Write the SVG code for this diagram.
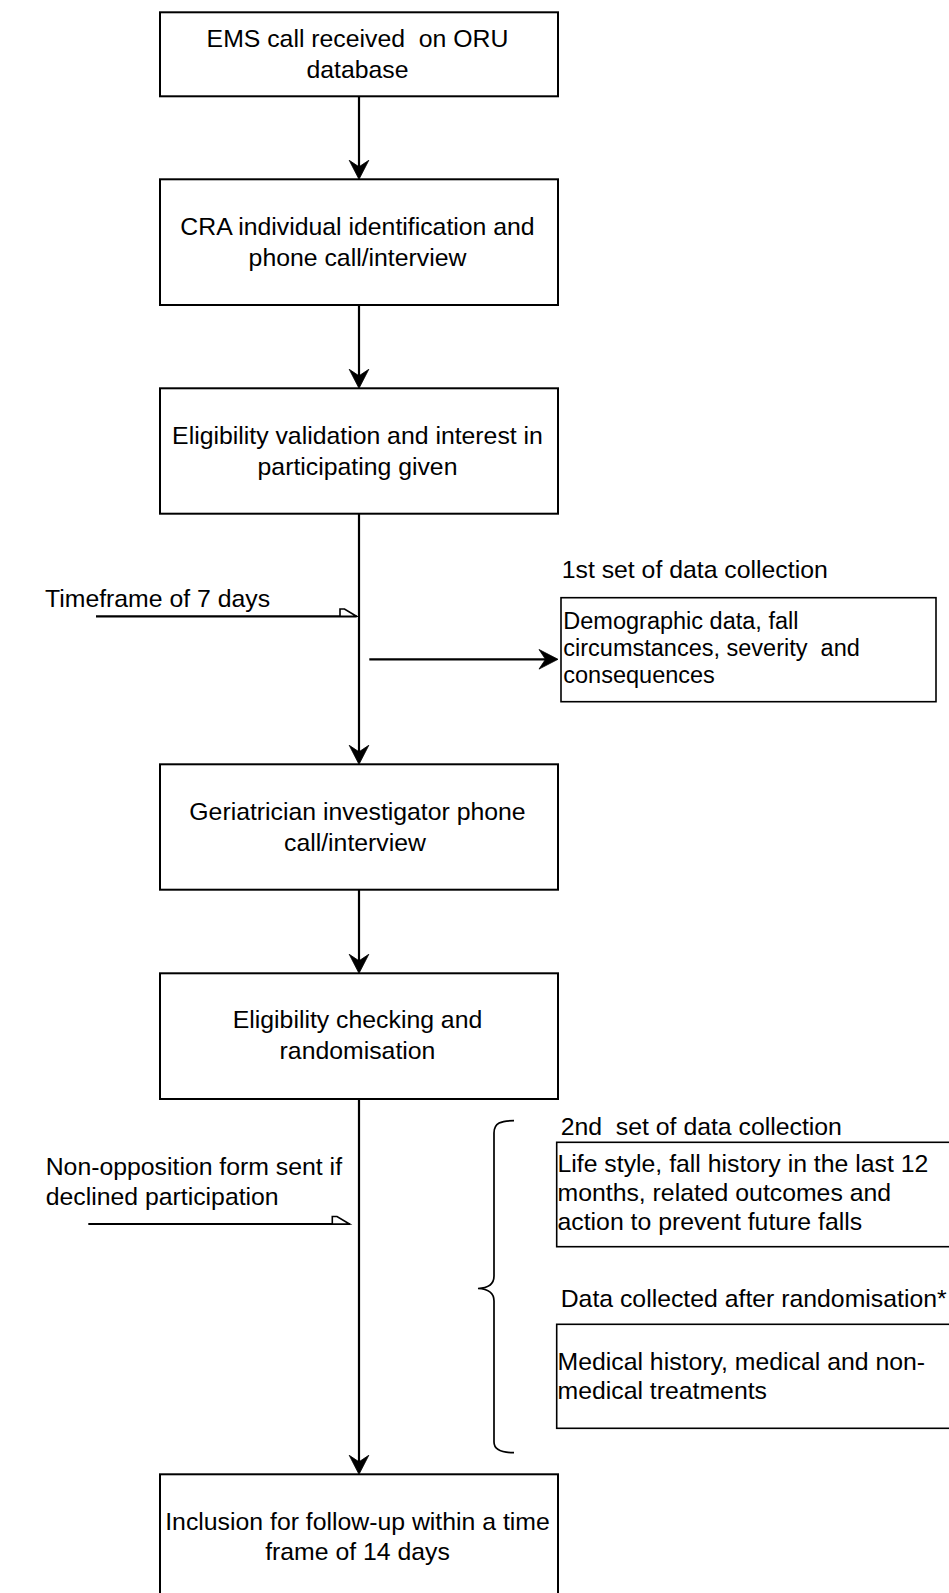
<svg xmlns="http://www.w3.org/2000/svg" width="949" height="1593" viewBox="0 0 949 1593">
  <style>
    text { font-family: "Liberation Sans", Arial, sans-serif; font-size: 24.8px; fill: #000; }
    .c { text-anchor: middle; }
    .box { fill: #fff; stroke: #000; stroke-width: 2; }
    .sbox { fill: #fff; stroke: #000; stroke-width: 1.6; }
    .ln { fill: none; stroke: #000; stroke-width: 2.2; }
    .half { fill: #fff; stroke: #000; stroke-width: 1.6; stroke-linejoin: miter; }
    .brace { fill: none; stroke: #000; stroke-width: 1.7; }
    .small { font-size: 23.5px; }
    .head { fill: #000; stroke: #000; stroke-width: 0.8; stroke-linejoin: miter; }
  </style>
  <defs>
    <path id="ah" class="head" d="M0,0 L-9.8,-19 L0,-12.5 L9.8,-19 Z"/>
  </defs>
  <rect width="949" height="1593" fill="#fff"/>

  <g id="connectors">
    <line class="ln" x1="359" y1="96.3" x2="359" y2="167.3"/>
    <use href="#ah" transform="translate(359,179.3)"/>
    <line class="ln" x1="359" y1="305" x2="359" y2="376.3"/>
    <use href="#ah" transform="translate(359,388.3)"/>
    <line class="ln" x1="359" y1="513.7" x2="359" y2="752.3"/>
    <use href="#ah" transform="translate(359,764.3)"/>
    <line class="ln" x1="359" y1="889.7" x2="359" y2="961.3"/>
    <use href="#ah" transform="translate(359,973.3)"/>
    <line class="ln" x1="359" y1="1099" x2="359" y2="1462.3"/>
    <use href="#ah" transform="translate(359,1474.3)"/>
    <line class="ln" x1="369.3" y1="659.3" x2="546" y2="659.3"/>
    <use href="#ah" transform="translate(558,659.3) rotate(-90)"/>
    <g id="timeframe-arrow">
      <line class="ln" x1="96" y1="616.3" x2="356.7" y2="616.3"/>
      <path class="half" d="M340,616.3 L340,609 L344.5,609 L356.5,616.3 Z"/>
    </g>
    <g id="nonopposition-arrow">
      <line class="ln" x1="88.3" y1="1224" x2="350" y2="1224"/>
      <path class="half" d="M332.3,1224 L332.3,1216.5 L337,1216.5 L349.5,1224 Z"/>
    </g>
    <path id="brace" class="brace" d="M514,1120.7 C501,1120.7 494,1123 494,1133 L494,1276 C494,1284 489,1288 478,1288.5 C489,1289 494,1293 494,1301 L494,1442 C494,1450 501,1452.7 514,1452.7"/>
  </g>

  <g id="node-ems">
    <rect class="box" x="160" y="12.3" width="398" height="84"/>
    <text class="c" x="357.5" y="46.7" xml:space="preserve">EMS call received  on ORU</text>
    <text class="c" x="357.5" y="77.7">database</text>
  </g>
  <g id="node-cra">
    <rect class="box" x="160" y="179.3" width="398" height="125.7"/>
    <text class="c" x="357.5" y="235">CRA individual identification and</text>
    <text class="c" x="357.5" y="265.7">phone call/interview</text>
  </g>
  <g id="node-eligibility-validation">
    <rect class="box" x="160" y="388.3" width="398" height="125.4"/>
    <text class="c" x="357.5" y="444">Eligibility validation and interest in</text>
    <text class="c" x="357.5" y="475">participating given</text>
  </g>
  <g id="label-timeframe">
    <text x="45" y="606.7">Timeframe of 7 days</text>
  </g>
  <g id="node-first-set">
    <text x="561.7" y="578.3">1st set of data collection</text>
    <rect class="sbox" x="561" y="597.7" width="375" height="104"/>
    <text class="small" x="563.3" y="629.3">Demographic data, fall</text>
    <text class="small" x="563.3" y="656" xml:space="preserve">circumstances, severity  and</text>
    <text class="small" x="563.3" y="683.3">consequences</text>
  </g>
  <g id="node-geriatrician">
    <rect class="box" x="160" y="764.3" width="398" height="125.4"/>
    <text class="c" x="357.5" y="820">Geriatrician investigator phone</text>
    <text class="c" x="355" y="851">call/interview</text>
  </g>
  <g id="node-eligibility-checking">
    <rect class="box" x="160" y="973.3" width="398" height="125.7"/>
    <text class="c" x="357.5" y="1028.3">Eligibility checking and</text>
    <text class="c" x="357.5" y="1059.3">randomisation</text>
  </g>
  <g id="label-nonopposition">
    <text x="45.7" y="1175">Non-opposition form sent if</text>
    <text x="45.7" y="1205">declined participation</text>
  </g>
  <g id="node-second-set">
    <text x="560.7" y="1135" xml:space="preserve">2nd  set of data collection</text>
    <rect class="sbox" x="556.7" y="1142.3" width="400" height="104.4"/>
    <text x="557.5" y="1171.7">Life style, fall history in the last 12</text>
    <text x="557.5" y="1200.7">months, related outcomes and</text>
    <text x="557.5" y="1230">action to prevent future falls</text>
  </g>
  <g id="node-after-randomisation">
    <text x="560.7" y="1306.7">Data collected after randomisation*</text>
    <rect class="sbox" x="556.7" y="1324.3" width="400" height="104"/>
    <text x="557.5" y="1370">Medical history, medical and non-</text>
    <text x="557.5" y="1399">medical treatments</text>
  </g>
  <g id="node-inclusion">
    <rect class="box" x="160" y="1474.3" width="398" height="130"/>
    <text class="c" x="357.5" y="1530">Inclusion for follow-up within a time</text>
    <text class="c" x="357.5" y="1560">frame of 14 days</text>
  </g>
</svg>
